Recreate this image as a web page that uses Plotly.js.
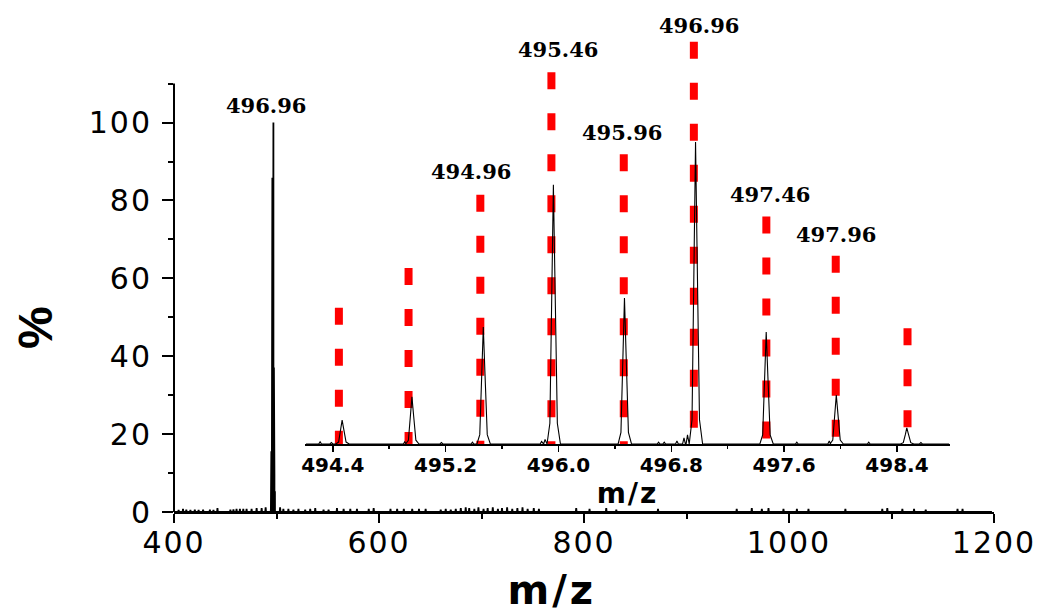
<!DOCTYPE html>
<html>
<head>
<meta charset="utf-8">
<script src="https://cdn.plot.ly/plotly-3.0.1.min.js"></script>
<style>
html,body{margin:0;padding:0;background:#fff;}
#chart{width:1052px;height:613px;}
/* the reference lettering is set wide: a little tracking */
.subplot.xy .xaxislayer-above .xtick text,
.subplot.xy .yaxislayer-above .ytick text { letter-spacing: 2px; }
.g-x2title text { letter-spacing: 2px; }
.annotation.wide text { letter-spacing: 3px; }
</style>
</head>
<body>
<div id="chart"></div>
<script>
// ---------- DATA ----------
// Main spectrum: isotope cluster (relative intensity %, base peak = 100)
const isoMz = [494.466, 494.961, 495.467, 495.964, 496.468, 496.972, 497.473, 497.970, 498.470];
const isoH  = [7.9, 15.6, 38.7, 85.8, 48.3, 100, 37.1, 16.2, 5.3];

// Main spectrum: small baseline signals (m/z, %)
const noiseMz = [404.5, 408.8, 412, 416, 420.3, 424, 428.4, 435, 438.5, 442.4, 455, 458, 461, 464.3, 467.6, 470.8, 475.7, 480.6, 485.5, 489.4,
  503.5, 506.7, 511.6, 516.5, 521.4, 528, 532.9, 537.8, 545.9, 550.8, 559, 565.5, 572, 578.5, 590, 594.8,
  611.2, 617.7, 624.2, 632.4, 639, 645.5, 660.2, 665.1, 670, 674.9, 679.8, 684.6, 688, 693, 697, 702, 706,
  711, 716, 720, 725, 730, 735, 740, 745, 751, 756, 792.4, 805.4, 821.7, 831.5, 872.2, 949, 963.7, 973.5,
  980, 994.6, 1007.7, 1019, 1055, 1091, 1095.9, 1110.6, 1122, 1133.4, 1164.4, 1169.3];
const noiseH = [0.5, 0.8, 0.6, 0.5, 0.6, 0.5, 0.6, 0.6, 0.5, 1.0, 0.6, 0.7, 0.8, 0.8, 0.8, 0.8, 0.8, 1.0, 1.0, 1.2,
  1.2, 0.8, 0.8, 0.6, 0.8, 0.6, 0.8, 1.0, 0.6, 0.6, 1.0, 0.8, 0.8, 0.8, 0.8, 1.0,
  0.8, 0.8, 0.8, 0.8, 0.8, 0.8, 0.6, 0.8, 0.6, 0.8, 1.0, 1.2, 1.0, 0.8, 1.2, 0.8, 1.0,
  1.2, 0.8, 1.0, 1.2, 0.8, 1.0, 1.2, 0.8, 1.0, 0.8, 1.0, 0.8, 1.0, 0.6, 0.8, 0.8, 1.0, 0.8,
  1.0, 0.8, 0.8, 0.8, 0.8, 0.8, 1.0, 0.8, 0.8, 0.6, 0.8, 0.8];

// Inset: small baseline signals (m/z, %)
const insetNoiseMz = [494.31, 494.39, 494.91, 495.17, 495.39, 495.88, 495.905, 496.71, 496.75, 496.84, 496.89, 496.915, 497.69, 497.92, 498.20, 498.57];
const insetNoiseH  = [0.7, 0.5, 0.7, 0.5, 0.6, 0.8, 1.5, 0.6, 0.6, 1.0, 2.0, 3.0, 0.6, 1.0, 0.6, 0.5];

// Inset: theoretical isotope positions (red dashed sticks) and their heights
const theoMz = [494.443, 494.937, 495.446, 495.950, 496.463, 496.960, 497.474, 497.966, 498.475];
const theoH  = [45.1, 58.3, 82.5, 123.1, 95.9, 133.2, 75.3, 62.3, 38.3];

// Peak labels in the inset (text, m/z position, height)
const insetLabels = ['494.96', '495.46', '495.96', '496.96', '497.46', '497.96'];
const insetLabelX = [495.382, 495.997, 496.454, 496.994, 497.498, 497.966];
const insetLabelY = [90.1, 130.7, 103.1, 138.7, 82.7, 69.4];

// Main peak label
const mainLabel = '496.96';
const mainLabelX = 489.5;
const mainLabelY = 104.5;

// Axis ticks
const mainXTicks = [400, 600, 800, 1000, 1200];
const mainYTicks = [0, 20, 40, 60, 80, 100];
const mainYMinor = [10, 30, 50, 70, 90, 110];
const insetXTicks = [494.4, 495.2, 496.0, 496.8, 497.6, 498.4];
const insetXTickText = ['494.4', '495.2', '496.0', '496.8', '497.6', '498.4'];

// Peak profile (offset in m/z, fraction of height)
const profDx = [-0.045, -0.025, -0.010, 0, 0.012, 0.028, 0.050];
const profFr = [0, 0.08, 0.6, 1, 0.6, 0.08, 0];

// ---------- BUILD TRACES ----------
function buildSpectrum(peaksX, peaksH, blipX, blipH, blipHalf) {
  const events = [];
  peaksX.forEach((c, i) => events.push({c: c, pts: profDx.map((d, k) => [c + d, peaksH[i] * profFr[k]])}));
  blipX.forEach((c, i) => events.push({c: c, pts: [[c - blipHalf, 0], [c, blipH[i]], [c + blipHalf, 0]]}));
  events.sort((a, b) => a.c - b.c);
  const xs = [], ys = [];
  events.forEach(e => e.pts.forEach(p => { xs.push(p[0]); ys.push(p[1]); }));
  return {xs, ys};
}

const mainSpec = buildSpectrum(isoMz, isoH, noiseMz, noiseH, 0.4);
const insetSpec = buildSpectrum(isoMz, isoH, insetNoiseMz, insetNoiseH, 0.01);

const traces = [];
traces.push({
  x: [401].concat(mainSpec.xs, [1198]), y: [0].concat(mainSpec.ys, [0]),
  type: 'scatter', mode: 'lines', xaxis: 'x', yaxis: 'y',
  line: {color: '#000', width: 1.8}, hoverinfo: 'skip', showlegend: false
});
theoMz.forEach((m, i) => {
  traces.push({
    x: [m, m], y: [theoH[i], 0], type: 'scatter', mode: 'lines', xaxis: 'x2', yaxis: 'y2',
    line: {color: '#ff0000', width: 8, dash: '17px,24px'}, hoverinfo: 'skip', showlegend: false
  });
});
traces.push({
  x: [494.21].concat(insetSpec.xs, [498.77]), y: [0].concat(insetSpec.ys, [0]),
  type: 'scatter', mode: 'lines', xaxis: 'x2', yaxis: 'y2',
  line: {color: '#000', width: 1.1}, hoverinfo: 'skip', showlegend: false
});

const tickFont = {family: 'DejaVu Sans, sans-serif', size: 30, color: '#000'};
const labFont = {family: 'DejaVu Serif, serif', size: 21, color: '#000', weight: 'bold'};

const annotations = [];
annotations.push({x: mainLabelX, y: mainLabelY, xref: 'x', yref: 'y', text: mainLabel, showarrow: false,
  font: labFont, xanchor: 'center', yanchor: 'middle'});
insetLabels.forEach((t, i) => annotations.push({x: insetLabelX[i], y: insetLabelY[i], xref: 'x2', yref: 'y2',
  text: t, showarrow: false, font: labFont, xanchor: 'center', yanchor: 'middle'}));
annotations.push({x: 0.461, y: -0.155, xref: 'paper', yref: 'paper', text: 'm/z', showarrow: false,
  font: {family: 'DejaVu Sans, sans-serif', size: 40, color: '#000', weight: 'bold'},
  xanchor: 'center', yanchor: 'middle'});
annotations.push({x: -0.1695, y: 0.3665, xref: 'paper', yref: 'paper', text: '%', showarrow: false, textangle: -90,
  font: {family: 'Liberation Sans, Arial, sans-serif', size: 48, color: '#000', weight: 'bold'},
  xanchor: 'center', yanchor: 'middle'});

const layout = {
  width: 1052, height: 613,
  margin: {l: 174, r: 58, t: 10, b: 101},
  paper_bgcolor: '#fff', plot_bgcolor: 'rgba(0,0,0,0)',
  showlegend: false,
  xaxis: {
    domain: [0, 1], range: [400, 1200], tickmode: 'array', tickvals: mainXTicks,
    ticks: 'outside', ticklen: 9, tickwidth: 2, tickcolor: '#000',
    minor: {tickmode: 'linear', tick0: 500, dtick: 200, ticks: 'outside', ticklen: 5, tickwidth: 2, tickcolor: '#000'},
    showline: true, linewidth: 2, linecolor: '#000', showgrid: false, zeroline: false,
    tickfont: tickFont, ticklabelstandoff: -6
  },
  yaxis: {
    domain: [0, 1], range: [0, 128.9], tickmode: 'array', tickvals: mainYTicks,
    ticks: 'outside', ticklen: 11, tickwidth: 2, tickcolor: '#000',
    minor: {tickmode: 'array', tickvals: mainYMinor, ticks: 'outside', ticklen: 5, tickwidth: 2, tickcolor: '#000'},
    showline: false, showgrid: false, zeroline: false,
    tickfont: tickFont, ticklabelstandoff: 4
  },
  xaxis2: {
    domain: [0.1598, 0.9463], range: [494.203, 498.776], anchor: 'y2',
    tickmode: 'array', tickvals: insetXTicks, ticktext: insetXTickText,
    ticks: 'outside', ticklen: 6, tickwidth: 1.5, tickcolor: '#000',
    minor: {tickmode: 'linear', tick0: 494.8, dtick: 0.8, ticks: 'outside', ticklen: 3, tickwidth: 1.5, tickcolor: '#000'},
    showline: true, linewidth: 2, linecolor: '#000', showgrid: false, zeroline: false,
    tickfont: {family: 'DejaVu Sans, sans-serif', size: 20, color: '#000', weight: 'bold'},
    ticklabelstandoff: -4,
    title: {text: 'm/z', standoff: 2, font: {family: 'DejaVu Sans, sans-serif', size: 28, color: '#000', weight: 'bold'}}
  },
  yaxis2: {
    domain: [0.1355, 1], range: [0, 143.7], anchor: 'x2', visible: false
  },
  shapes: [
    {type: 'line', xref: 'paper', yref: 'y', x0: 0, x1: 0, y0: -0.5, y1: 110, line: {color: '#000', width: 2}}
  ],
  annotations: annotations
};

Plotly.newPlot('chart', traces, layout, {staticPlot: true, displayModeBar: false}).then(function (gd) {
  // tag the bottom axis title annotation so the stylesheet can track it out like the reference
  gd.querySelectorAll('.annotation').forEach(function (a) {
    const t = a.querySelector('text');
    if (t && t.textContent === 'm/z') a.classList.add('wide');
  });
});
</script>
</body>
</html>
